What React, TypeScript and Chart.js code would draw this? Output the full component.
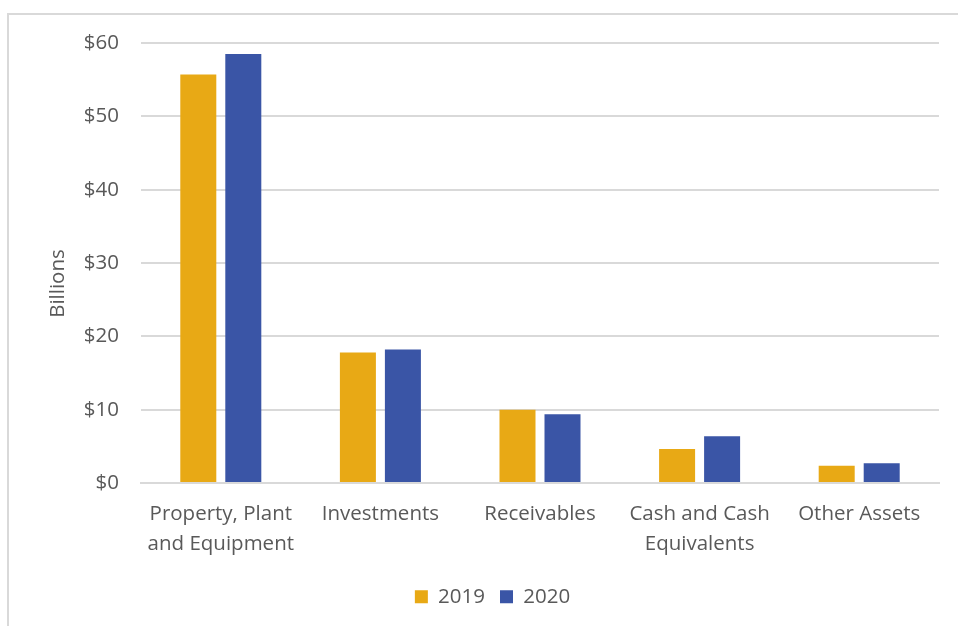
import React, { useEffect, useRef } from "react";
import { Chart, registerables } from "chart.js";

Chart.register(...registerables);

const categories: (string | string[])[] = [
  ["Property, Plant", "and Equipment"],
  "Investments",
  "Receivables",
  ["Cash and Cash", "Equivalents"],
  "Other Assets",
];
const values2019 = [55.7, 17.8, 10.0, 4.65, 2.37];
const values2020 = [58.5, 18.2, 9.4, 6.4, 2.7];
const seriesNames = ["2019", "2020"];
const yTicks = [0, 10, 20, 30, 40, 50, 60];
const yTitle = "Billions";

const FONT = "'Open Sans', sans-serif";
const TEXT = "#595959";
const GRID = "#d9d9d9";
const FS = 20.5;

export default function App() {
  const ref = useRef<HTMLCanvasElement>(null);
  useEffect(() => {
    if (!ref.current) return;
    const chart = new Chart(ref.current, {
      type: "bar",
      data: {
        labels: categories,
        datasets: [
          {
            label: seriesNames[0],
            data: values2019,
            backgroundColor: "#E8A915",
            categoryPercentage: 0.564,
            barPercentage: 0.8,
          },
          {
            label: seriesNames[1],
            data: values2020,
            backgroundColor: "#3A55A6",
            categoryPercentage: 0.564,
            barPercentage: 0.8,
          },
        ],
      },
      options: {
        animation: false,
        responsive: false,
        maintainAspectRatio: false,
        layout: { padding: { top: 28, right: 19, left: 37, bottom: 9 } },
        plugins: {
          tooltip: { enabled: false },
          legend: {
            position: "bottom",
            labels: {
              boxWidth: 13,
              boxHeight: 13,
              color: TEXT,
              font: { family: FONT, size: FS },
              padding: 15,
            },
          },
        },
        scales: {
          x: {
            grid: { display: false, drawTicks: false },
            border: { display: true, color: GRID, width: 2 },
            afterFit: (axis: any) => {
              axis.height = 88.4;
            },
            ticks: {
              color: TEXT,
              font: { family: FONT, size: FS, lineHeight: 1.45 },
              padding: 16.5,
              maxRotation: 0,
              autoSkip: false,
            },
          },
          y: {
            min: 0,
            max: 60,
            afterBuildTicks: (axis: any) => {
              axis.ticks = yTicks.map((v) => ({ value: v }));
            },
            afterFit: (axis: any) => {
              axis.width = 95;
            },
            grid: {
              color: GRID,
              lineWidth: 2,
              drawTicks: true,
              tickLength: 22,
              tickColor: "rgba(0,0,0,0)",
            },
            border: { display: false },
            title: {
              display: true,
              text: yTitle + "\u2002\u2002\u2002\u2002",
              color: TEXT,
              font: { family: FONT, size: FS },
              padding: { top: 0, bottom: 0 },
            },
            ticks: {
              color: TEXT,
              font: { family: FONT, size: FS },
              padding: 0,
              callback: (v: any) => "$" + v,
            },
          },
        },
      },
    });
    return () => chart.destroy();
  }, []);
  return (
    <div
      style={{
        position: "absolute",
        left: 7,
        top: 13,
        width: 949,
        height: 611,
        borderLeft: `2px solid ${GRID}`,
        borderTop: `2px solid ${GRID}`,
        background: "#fff",
      }}
    >
      <canvas ref={ref} width={949} height={611} style={{ display: "block" }} />
    </div>
  );
}
